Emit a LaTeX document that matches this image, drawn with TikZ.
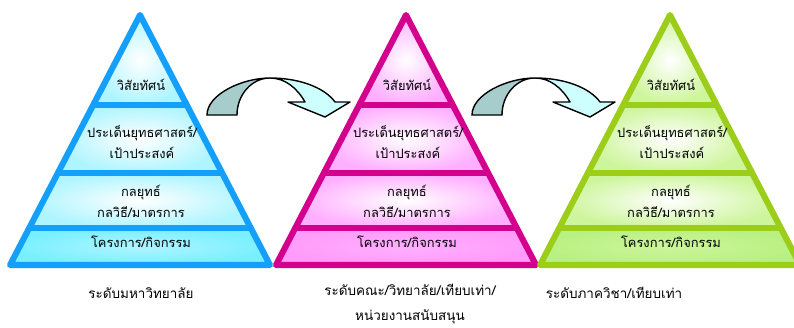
\documentclass[tikz,border=0pt]{standalone}
\usepackage{fontspec}
\newfontfamily\thaifont[Script=Thai]{Loma}
\definecolor{bluLine}{RGB}{20,160,250}
\definecolor{bluSoft}{RGB}{175,245,255}
\definecolor{bluBase}{RGB}{120,240,255}
\definecolor{magLine}{RGB}{210,0,140}
\definecolor{magSoft}{RGB}{255,175,255}
\definecolor{magBase}{RGB}{255,155,250}
\definecolor{grnLine}{RGB}{155,205,25}
\definecolor{grnSoft}{RGB}{205,245,155}
\definecolor{grnBase}{RGB}{185,240,130}
\definecolor{backTeal}{RGB}{166,204,204}
\definecolor{frontCyan}{RGB}{205,255,255}

\begin{document}
\begin{tikzpicture}[x=0.03cm,y=-0.03cm,
    rim/.style={line width=5.2pt,line join=round},
    divider/.style={line width=4.4pt},
    tier/.style={font=\thaifont\fontsize{11}{18}\selectfont,align=center,inner sep=0pt},
    level/.style={font=\thaifont\fontsize{11.5}{21}\selectfont,align=center,inner sep=0pt},
    bentarrow/.pic={
      \draw[line width=1.2pt,fill=backTeal] (0,0) .. controls (0,-20.4) and (34.8,-37) .. (63,-37)
        .. controls (44.8,-37) and (30,-20.4) .. (30,0) -- cycle;
      \draw[line width=1.2pt,line join=round,fill=frontCyan] (63,-37) .. controls (93,-37) and (118,-27) .. (128,-13)
        -- (143,-13) -- (118,2) -- (81,-13) -- (98,-13) .. controls (90,-27) and (78,-37) .. (63,-37) -- cycle;
    }]
  \useasboundingbox (0,0) rectangle (794,327);

  \foreach \cx/\ln/\lt/\bs/\n in {140/bluLine/bluSoft/bluBase/a, 406/magLine/magSoft/magBase/b, 670/grnLine/grnSoft/grnBase/c} {
    \shade[inner color=white,outer color=\lt] (\cx,15) -- (\cx+46.8,105) -- (\cx-46.8,105) -- cycle;
    \shade[inner color=white,outer color=\lt] (\cx-46.8,105) -- (\cx+46.8,105) -- (\cx+82.2,173) -- (\cx-82.2,173) -- cycle;
    \shade[inner color=white,outer color=\lt] (\cx-82.2,173) -- (\cx+82.2,173) -- (\cx+110.8,228) -- (\cx-110.8,228) -- cycle;
    \shade[inner color=\lt,outer color=\bs] (\cx-110.8,228) -- (\cx+110.8,228) -- (\cx+130,265) -- (\cx-130,265) -- cycle;
    \draw[rim,\ln] (\cx,15) -- (\cx+130,265) -- (\cx-130,265) -- cycle;
    \draw[divider,\ln] (\cx-46.8,105) -- (\cx+46.8,105)
      (\cx-82.2,173) -- (\cx+82.2,173)
      (\cx-110.8,228) -- (\cx+110.8,228);

    \node[tier] (vis-\n) at (\cx+1,85) {วิสัยทัศน์};
    \node[tier] (goal-\n) at (\cx+2,142.5) {ประเด็นยุทธศาสตร์/\\เป้าประสงค์};
    \node[tier] (strat-\n) at (\cx+1,201.5) {กลยุทธ์\\กลวิธี/มาตรการ};
    \node[tier] (proj-\n) at (\cx+1,242) {โครงการ/กิจกรรม};
  }

  \pic (turnA) at (207,115) {bentarrow};
  \pic (turnB) at (472,115) {bentarrow};

  \node[level] (lvl-a) at (141,293) {ระดับมหาวิทยาลัย};
  \node[level] (lvl-b) at (410,304) {ระดับคณะ/วิทยาลัย/เทียบเท่า/\\หน่วยงานสนับสนุน};
  \node[level] (lvl-c) at (614,293) {ระดับภาควิชา/เทียบเท่า};
\end{tikzpicture}
\end{document}
